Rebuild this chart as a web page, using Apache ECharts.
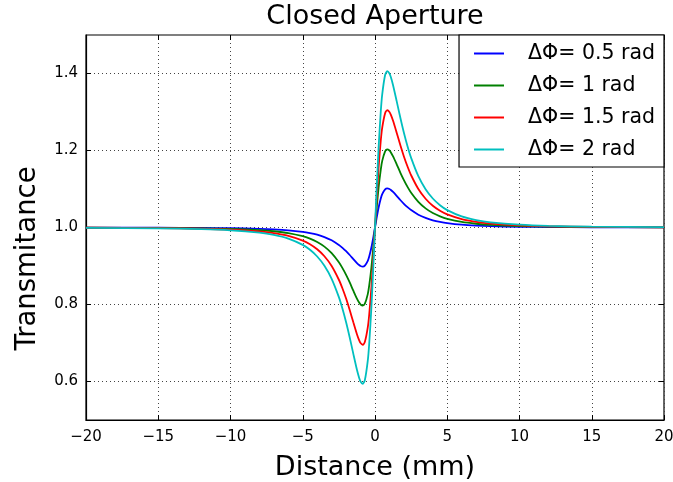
<!DOCTYPE html>
<html>
<head>
<meta charset="utf-8">
<script src="https://cdn.jsdelivr.net/npm/echarts@6/dist/echarts.min.js"></script>
<style>html,body{margin:0;padding:0;background:#fff}#c{width:673px;height:482px}</style>
</head>
<body>
<div id="c"></div>
<script>
var zValues = [-20,-15,-12,-10,-8,-7,-6,-5,-4.5,-4,-3.5,-3,-2.5,-2.25,-2,-1.75,-1.5,-1.25,-1.1,-1,-0.85,-0.7,-0.5,-0.4,-0.25,-0.1,0,0.1,0.25,0.4,0.5,0.7,0.85,1,1.1,1.25,1.5,1.75,2,2.25,2.5,3,3.5,4,4.5,5,6,7,8,10,12,15,20];
var seriesNames = ['\u0394\u03A6= 0.5 rad','\u0394\u03A6= 1 rad','\u0394\u03A6= 1.5 rad','\u0394\u03A6= 2 rad'];
var phi05 = [0.9998,0.9994,0.9989,0.9982,0.9966,0.9952,0.9928,0.9887,0.9855,0.9812,0.9751,0.9667,0.9548,0.9472,0.9385,0.9286,0.9179,0.9076,0.9025,0.9000,0.8985,0.9010,0.9135,0.9247,0.9481,0.9780,1.0,1.0220,1.0519,1.0753,1.0865,1.0990,1.1015,1.1000,1.0975,1.0924,1.0821,1.0714,1.0615,1.0528,1.0452,1.0333,1.0249,1.0188,1.0145,1.0113,1.0072,1.0048,1.0034,1.0018,1.0011,1.0006,1.0002];
var phi1 = [0.9995,0.9989,0.9978,0.9964,0.9933,0.9903,0.9856,0.9774,0.9710,0.9624,0.9503,0.9333,0.9096,0.8944,0.8769,0.8572,0.8359,0.8153,0.8050,0.8000,0.7970,0.8020,0.8270,0.8494,0.8961,0.9560,1.0,1.0440,1.1039,1.1506,1.1730,1.1980,1.2030,1.2000,1.1950,1.1847,1.1641,1.1428,1.1231,1.1056,1.0904,1.0667,1.0497,1.0376,1.0290,1.0226,1.0144,1.0097,1.0067,1.0036,1.0022,1.0011,1.0005];
var phi15 = [0.9993,0.9983,0.9968,0.9946,0.9899,0.9855,0.9784,0.9661,0.9566,0.9435,0.9254,0.9000,0.8643,0.8416,0.8154,0.7857,0.7538,0.7229,0.7075,0.7000,0.6955,0.7030,0.7405,0.7741,0.8442,0.9341,1.0,1.0659,1.1558,1.2259,1.2595,1.2970,1.3045,1.3000,1.2925,1.2771,1.2462,1.2143,1.1846,1.1584,1.1357,1.1000,1.0746,1.0565,1.0434,1.0339,1.0216,1.0145,1.0101,1.0054,1.0032,1.0017,1.0007];
var phi2 = [0.9990,0.9977,0.9957,0.9927,0.9865,0.9807,0.9712,0.9548,0.9421,0.9247,0.9006,0.8667,0.8191,0.7889,0.7538,0.7143,0.6718,0.6305,0.6100,0.6000,0.5940,0.6040,0.6541,0.6988,0.7923,0.9121,1.0,1.0879,1.2077,1.3012,1.3459,1.3960,1.4060,1.4000,1.3900,1.3695,1.3282,1.2857,1.2462,1.2111,1.1809,1.1333,1.0994,1.0753,1.0579,1.0452,1.0288,1.0193,1.0135,1.0073,1.0043,1.0023,1.0010];
var yTicks = [0.6,0.8,1.0,1.2,1.4];
var colors = ['#0000ff','#008000','#ff0000','#00bfbf'];

var FONT = 'DejaVu Sans';
var allSeries = [phi05, phi1, phi15, phi2];
function pairs(arr){ return zValues.map(function(z,i){ return [z, arr[i]]; }); }
var gridLine = {show:true, lineStyle:{color:'#444', type:[1,3], width:1}};
var tick = {show:true, inside:true, length:5, lineStyle:{color:'#000'}};
var chart = echarts.init(document.getElementById('c'), null, {renderer:'canvas'});
chart.setOption({
  animation:false,
  backgroundColor:'#fff',
  title:{text:'Closed Aperture', left:375, textAlign:'center', top:3, textStyle:{fontFamily:FONT, fontSize:27, fontWeight:'normal', color:'#000'}, padding:0, itemGap:0},
  grid:{left:86, right:9, top:35, bottom:62, containLabel:false, outerBoundsMode:'none', show:true, borderColor:'#000', borderWidth:1.2, backgroundColor:'transparent'},
  legend:{
    orient:'vertical', right:9, top:35, data:seriesNames,
    icon:'rect', itemWidth:30, itemHeight:2, itemGap:11,
    padding:[8,9,7,15],
    backgroundColor:'#fff', borderColor:'#000', borderWidth:1.2, borderRadius:0,
    textStyle:{fontFamily:FONT, fontSize:20.5, color:'#000', lineHeight:20, padding:[0,0,0,19]}
  },
  xAxis:[{
    type:'value', min:-20, max:20, interval:5,
    name:'Distance (mm)', nameLocation:'middle', nameGap:34,
    nameTextStyle:{fontFamily:FONT, fontSize:27, color:'#000'},
    axisLine:{show:true, onZero:false, lineStyle:{color:'#000', width:1.2}},
    axisTick:tick,
    axisLabel:{fontFamily:FONT, fontSize:15, color:'#000', margin:10, formatter:function(v){return String(v).replace('-','\u2212');}},
    splitLine:gridLine
  },{
    type:'value', min:-20, max:20, interval:5, position:'top',
    axisLine:{show:false, onZero:false}, axisTick:tick,
    axisLabel:{show:false}, splitLine:{show:false}
  }],
  yAxis:[{
    type:'value', min:0.5, max:1.5,
    name:'Transmitance', nameLocation:'middle', nameGap:44,
    nameTextStyle:{fontFamily:FONT, fontSize:27.5, color:'#000', padding:[0,62,0,0]},
    axisLine:{show:true, onZero:false, lineStyle:{color:'#000', width:1.2}},
    axisTick:{show:true, inside:true, length:5, lineStyle:{color:'#000'}, customValues:yTicks},
    axisLabel:{fontFamily:FONT, fontSize:15, color:'#000', margin:8, customValues:yTicks, formatter:function(v){return v.toFixed(1);}},
    splitLine:gridLine
  },{
    type:'value', min:0.5, max:1.5, position:'right',
    axisLine:{show:false, onZero:false},
    axisTick:{show:true, inside:true, length:5, lineStyle:{color:'#000'}, customValues:yTicks},
    axisLabel:{show:false, customValues:yTicks}, splitLine:{show:false}
  }],
  series: allSeries.map(function(arr,i){
    return {name:seriesNames[i], type:'line', data:pairs(arr), symbol:'none', smooth:0.25,
      lineStyle:{color:colors[i], width:1.8}, itemStyle:{color:colors[i]}, z:2+i};
  })
});
</script>
</body>
</html>
